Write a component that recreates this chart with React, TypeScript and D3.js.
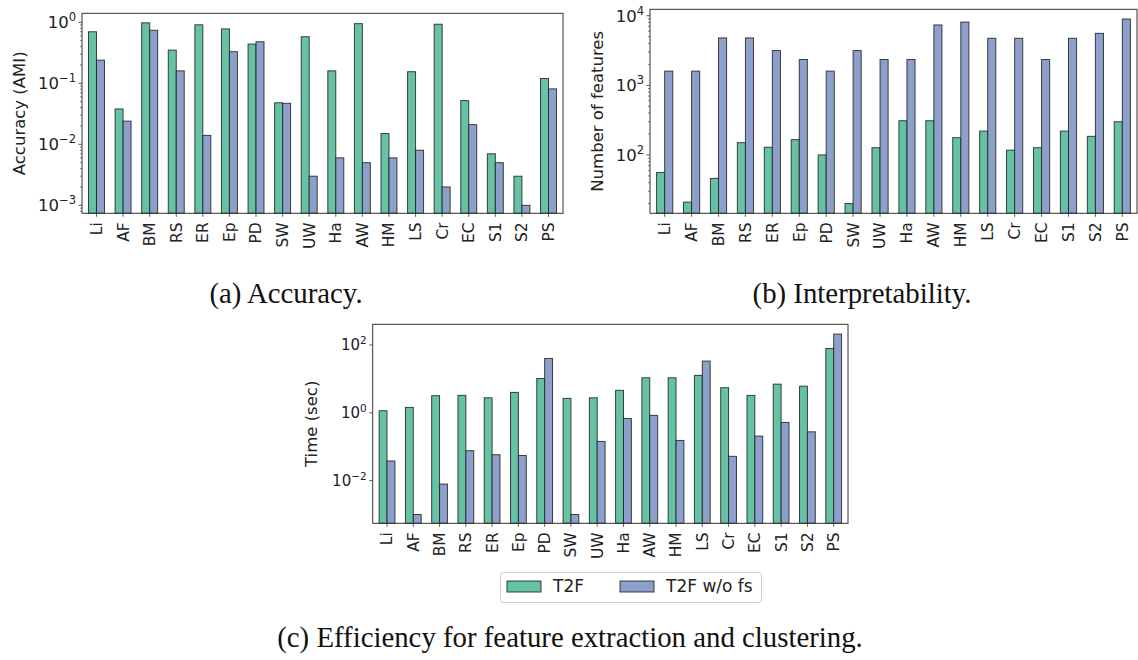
import * as d3 from "d3";

// categories shared by all three panels
const categories = ["Li", "AF", "BM", "RS", "ER", "Ep", "PD", "SW", "UW", "Ha", "AW", "HM", "LS", "Cr", "EC", "S1", "S2", "PS"];

// (a) accuracy (AMI)
const accT2F = [0.7, 0.038, 0.98, 0.35, 0.91, 0.78, 0.44, 0.048, 0.58, 0.16, 0.95, 0.015, 0.155, 0.93, 0.052, 0.007, 0.003, 0.12];
const accNoFs = [0.24, 0.024, 0.74, 0.16, 0.014, 0.33, 0.48, 0.047, 0.003, 0.006, 0.005, 0.006, 0.008, 0.002, 0.021, 0.005, 0.001, 0.081];

// (b) number of features
const featT2F = [56, 21, 46, 150, 129, 166, 100, 20, 127, 310, 310, 177, 220, 117, 127, 220, 185, 300];
const featNoFs = [1600, 1600, 4800, 4800, 3160, 2350, 1600, 3160, 2350, 2350, 7370, 8100, 4740, 4740, 2350, 4740, 5580, 8970];

// (c) time (sec)
const timeT2F = [1.15, 1.44, 3.2, 3.26, 2.77, 4.0, 10.3, 2.66, 2.77, 4.6, 10.8, 10.8, 12.7, 5.5, 3.26, 7.0, 6.1, 79];
const timeNoFs = [0.038, 0.001, 0.0079, 0.076, 0.058, 0.055, 40, 0.001, 0.143, 0.68, 0.84, 0.153, 33.5, 0.052, 0.205, 0.52, 0.275, 210];

const seriesNames = ["T2F", "T2F w/o fs"];
const colors = ["#66c2a5", "#8da0cb"];
const font = "'DejaVu Sans', sans-serif";
const serif = "'Liberation Serif', 'Times New Roman', serif";

const sup: Record<string, string> = { "-": "\u2212" };

type PanelProps = {
  left: number;
  right: number;
  top: number;
  bottom: number;
  yDomain: [number, number];
  majorTicks: number[];
  minor: boolean;
  yLabel: string;
  yLabelX: number;
  tickFont: number;
  a: number[];
  b: number[];
};

function Panel(p: PanelProps) {
  const x = d3.scaleBand<string>().domain(categories).range([p.left, p.right]).paddingInner(0).paddingOuter(0.045);
  const y = d3.scaleLog().domain(p.yDomain).range([p.bottom, p.top]);
  const bw = x.step() * 0.3;
  const minorTicks: number[] = [];
  if (p.minor) {
    const lo = Math.floor(Math.log10(p.yDomain[0]));
    const hi = Math.ceil(Math.log10(p.yDomain[1]));
    for (let e = lo; e <= hi; e++) {
      for (let k = 2; k <= 9; k++) {
        const v = k * Math.pow(10, e);
        if (v >= p.yDomain[0] && v <= p.yDomain[1]) minorTicks.push(v);
      }
    }
  }
  const cx = (c: string) => (x(c) as number) + x.bandwidth() / 2;
  return (
    <g fontFamily={font} fill="#222">
      {[p.a, p.b].map((vals, s) => (
        <g key={s}>
          {vals.map((v, i) => {
            const c = categories[i];
            const x0 = s === 0 ? cx(c) - bw : cx(c);
            return (
              <rect key={c} x={x0} y={y(v)} width={bw} height={p.bottom - y(v)}
                fill={colors[s]} stroke="#222" strokeOpacity={0.85} strokeWidth={1} />
            );
          })}
        </g>
      ))}
      <rect x={p.left} y={p.top} width={p.right - p.left} height={p.bottom - p.top}
        fill="none" stroke="#333" strokeWidth={1} />
      {minorTicks.map((t) => (
        <line key={"m" + t} x1={p.left - 2} x2={p.left} y1={y(t)} y2={y(t)} stroke="#333" strokeWidth={0.6} />
      ))}
      {p.majorTicks.map((t) => {
        const e = Math.round(Math.log10(t));
        const es = String(e).split("").map((ch) => sup[ch] ?? ch).join("");
        return (
          <g key={t}>
            <line x1={p.left - 3.5} x2={p.left} y1={y(t)} y2={y(t)} stroke="#333" strokeWidth={0.8} />
            <text x={p.left - 6} y={y(t)} dy="0.36em" textAnchor="end" fontSize={p.tickFont}>
              10
              <tspan dy={-p.tickFont * 0.42} fontSize={p.tickFont * 0.7}>{es}</tspan>
            </text>
          </g>
        );
      })}
      {categories.map((c) => (
        <g key={c}>
          <line x1={cx(c)} x2={cx(c)} y1={p.bottom} y2={p.bottom + 3.5} stroke="#333" strokeWidth={0.8} />
          <text transform={`translate(${cx(c)},${p.bottom + 9}) rotate(-90)`} dy="0.35em"
            textAnchor="end" fontSize={15.5}>{c}</text>
        </g>
      ))}
      <text transform={`translate(${p.yLabelX},${(p.top + p.bottom) / 2}) rotate(-90)`} dy="0.35em"
        textAnchor="middle" fontSize={16.5}>{p.yLabel}</text>
    </g>
  );
}

export default function App() {
  return (
    <svg width={1138} height={660} style={{ position: "absolute", left: 0, top: 0, background: "#fff" }}>
      <Panel left={82} right={563} top={13.3} bottom={213.3} yDomain={[7.4e-4, 1.405]}
        majorTicks={[1e-3, 1e-2, 1e-1, 1]} minor yLabel="Accuracy (AMI)" yLabelX={19}
        tickFont={16.5} a={accT2F} b={accNoFs} />
      <Panel left={650} right={1137} top={9.3} bottom={213.3} yDomain={[14.5, 12370]}
        majorTicks={[100, 1000, 10000]} minor yLabel="Number of features" yLabelX={597}
        tickFont={16.5} a={featT2F} b={featNoFs} />
      <Panel left={372.7} right={848} top={324.3} bottom={523.3} yDomain={[5.5e-4, 408]}
        majorTicks={[1e-2, 1, 100]} minor={false} yLabel="Time (sec)" yLabelX={311}
        tickFont={15} a={timeT2F} b={timeNoFs} />
      <g fontFamily={serif} fill="#111" fontSize={28.8} textAnchor="middle">
        <text x={286} y={302.7}>(a) Accuracy.</text>
        <text x={862} y={302.7}>(b) Interpretability.</text>
        <text x={570} y={647}>(c) Efficiency for feature extraction and clustering.</text>
      </g>
      <g fontFamily={font} fontSize={17} fill="#222">
        <rect x={500.5} y={572.5} width={261} height={30} rx={3} fill="#fff" stroke="#ccc" />
        {seriesNames.map((n, i) => (
          <g key={n} transform={`translate(${i === 0 ? 507 : 620},0)`}>
            <rect x={0} y={581} width={34} height={11} fill={colors[i]} stroke="#222" strokeOpacity={0.85} />
            <text x={46} y={592}>{n}</text>
          </g>
        ))}
      </g>
    </svg>
  );
}
